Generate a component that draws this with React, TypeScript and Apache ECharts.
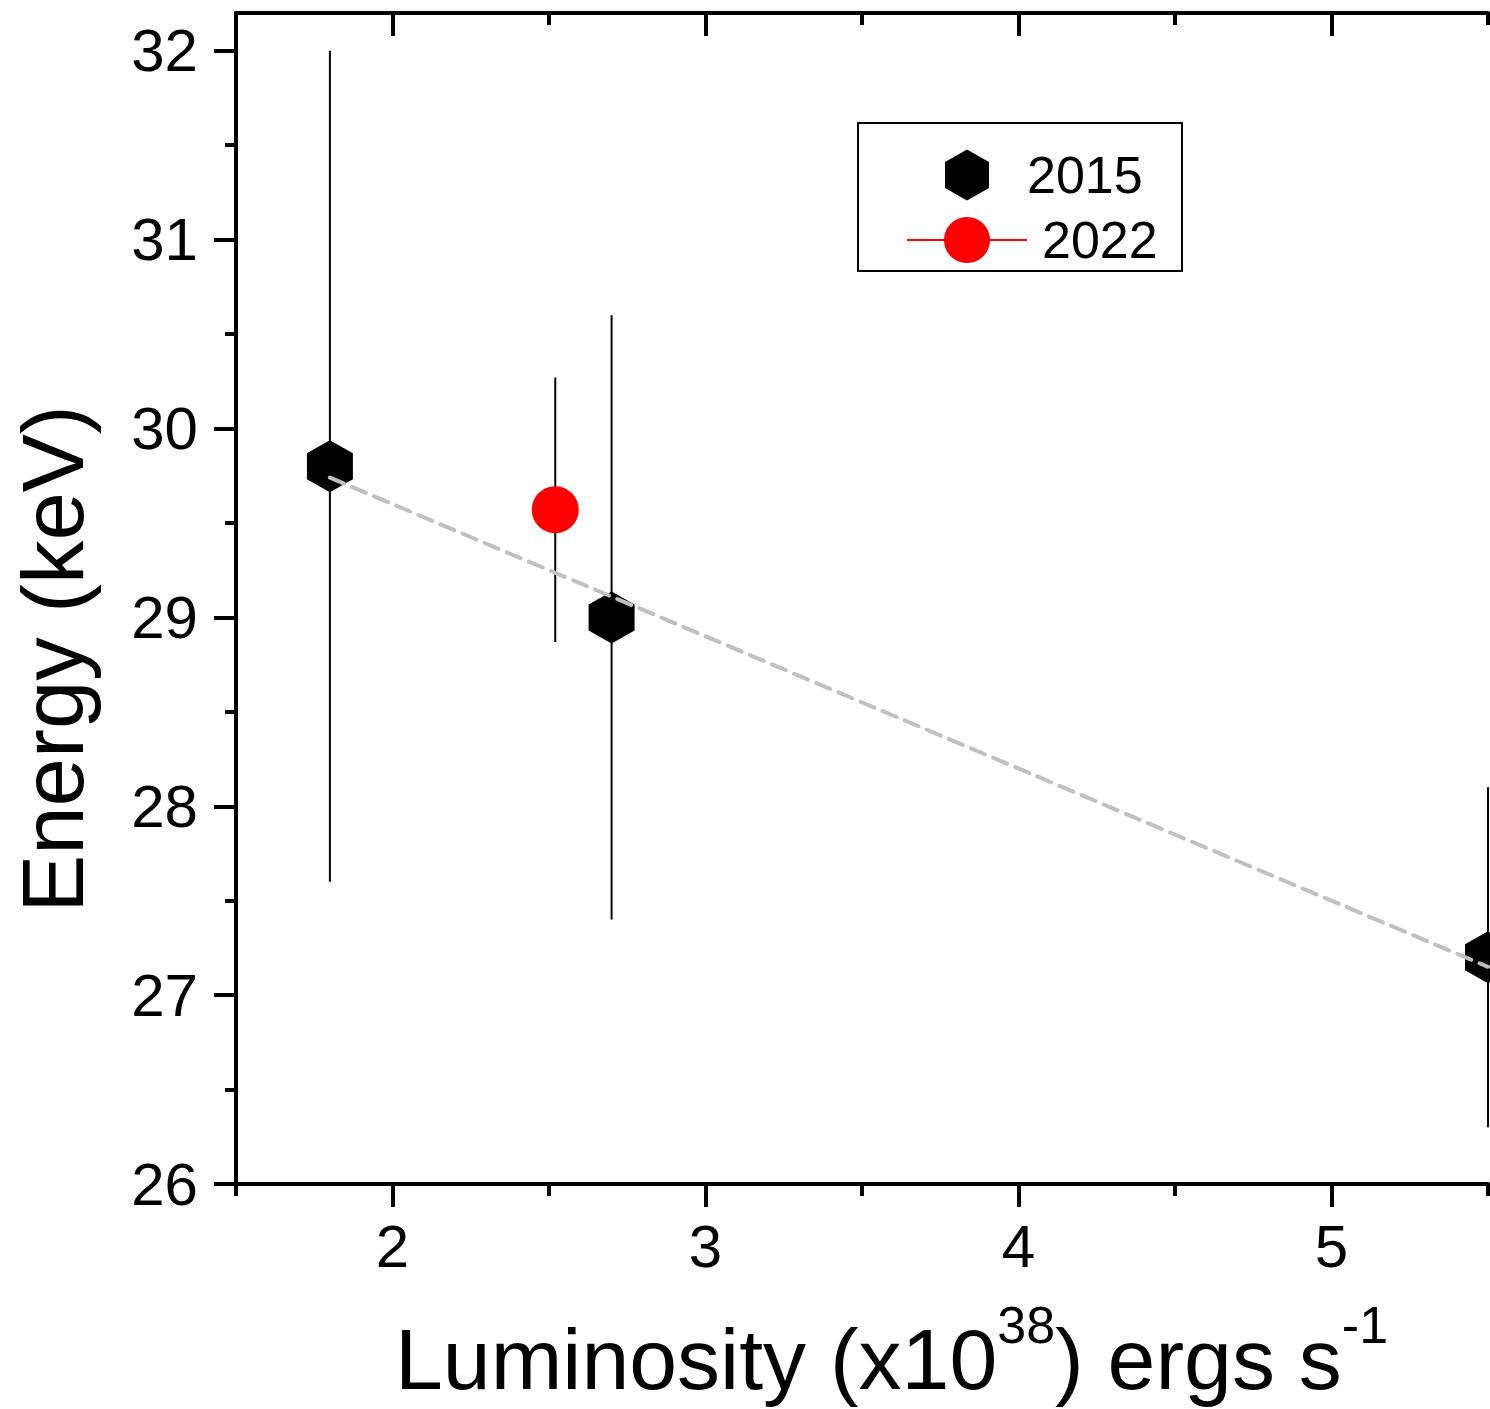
import React, { useEffect, useRef } from "react";
import * as echarts from "echarts";

// ---- Data ----
const luminosity2015 = [1.8, 2.7, 5.5];
const energy2015 = [29.8, 29.0, 27.2];
const errLow2015 = [27.6, 27.4, 26.3];
const errHigh2015 = [32.0, 30.6, 28.1];

const luminosity2022 = [2.52];
const energy2022 = [29.57];
const errLow2022 = [28.87];
const errHigh2022 = [30.27];

const fitX = [1.8, 5.5];
const fitY = [29.74, 27.15];

const xMajorTicks = [2, 3, 4, 5];
const xMinorTicks = [1.5, 2.5, 3.5, 4.5, 5.5];
const yMajorTicks = [26, 27, 28, 29, 30, 31, 32];
const yMinorTicks = [26.5, 27.5, 28.5, 29.5, 30.5, 31.5];

const seriesNames = ["2015", "2022"];

const FONT = "'Liberation Sans', Arial, Helvetica, sans-serif";
const HEX = "path://M0,-1 L0.866,-0.5 L0.866,0.5 L0,1 L-0.866,0.5 L-0.866,-0.5 Z";

export default function App() {
  const ref = useRef<HTMLDivElement>(null);

  useEffect(() => {
    if (!ref.current) return;
    const chart = echarts.init(ref.current, null, { renderer: "svg" });

    const errorBar = (xs: number[], lo: number[], hi: number[]) => ({
      type: "custom",
      xAxisIndex: 0,
      yAxisIndex: 0,
      silent: true,
      clip: false,
      z: 1,
      data: xs.map((x, i) => [x, lo[i], hi[i]]),
      renderItem: (_p: any, api: any) => {
        const a = api.coord([api.value(0), api.value(1)]);
        const b = api.coord([api.value(0), api.value(2)]);
        return {
          type: "line",
          shape: { x1: a[0], y1: a[1], x2: b[0], y2: b[1] },
          style: { stroke: "#000", lineWidth: 2 },
        };
      },
    });

    const baseX = {
      type: "value",
      min: 1.5,
      max: 5.5,
      splitLine: { show: false },
      gridIndex: 0,
    };
    const baseY = {
      type: "value",
      min: 26,
      max: 32.2,
      splitLine: { show: false },
      gridIndex: 0,
    };
    const lineStyle = { color: "#000", width: 4 };

    const option: any = {
      animation: false,
      grid: { left: 236, right: 2, top: 13, bottom: 225, containLabel: false },
      xAxis: [
        {
          ...baseX,
          position: "bottom",
          axisLine: { show: true, lineStyle },
          axisTick: { show: true, inside: false, length: 23, customValues: xMajorTicks, lineStyle },
          axisLabel: {
            show: true,
            customValues: xMajorTicks,
            fontSize: 60,
            fontFamily: FONT,
            color: "#000",
            margin: 32,
          },
        },
        {
          ...baseX,
          position: "bottom",
          axisLine: { show: false },
          axisTick: { show: true, inside: false, length: 12, customValues: xMinorTicks, lineStyle },
          axisLabel: { show: false },
        },
        {
          ...baseX,
          position: "top",
          axisLine: { show: true, lineStyle },
          axisTick: { show: true, inside: true, length: 23, customValues: xMajorTicks, lineStyle },
          axisLabel: { show: false },
        },
        {
          ...baseX,
          position: "top",
          axisLine: { show: false },
          axisTick: { show: true, inside: true, length: 12, customValues: xMinorTicks, lineStyle },
          axisLabel: { show: false },
        },
      ],
      yAxis: [
        {
          ...baseY,
          position: "left",
          axisLine: { show: true, lineStyle },
          axisTick: { show: true, inside: false, length: 22, customValues: yMajorTicks, lineStyle },
          axisLabel: {
            show: true,
            customValues: yMajorTicks,
            fontSize: 60,
            fontFamily: FONT,
            color: "#000",
            margin: 38,
          },
        },
        {
          ...baseY,
          position: "left",
          axisLine: { show: false },
          axisTick: { show: true, inside: false, length: 11, customValues: yMinorTicks, lineStyle },
          axisLabel: { show: false },
        },
      ],
      series: [
        errorBar(luminosity2015, errLow2015, errHigh2015),
        errorBar(luminosity2022, errLow2022, errHigh2022),
        {
          name: seriesNames[0],
          type: "scatter",
          xAxisIndex: 0,
          yAxisIndex: 0,
          clip: false,
          z: 2,
          symbol: HEX,
          symbolSize: [46, 52],
          itemStyle: { color: "#000", opacity: 1 },
          data: luminosity2015.map((x, i) => [x, energy2015[i]]),
        },
        {
          name: seriesNames[1],
          type: "scatter",
          xAxisIndex: 0,
          yAxisIndex: 0,
          clip: false,
          z: 3,
          symbol: "circle",
          symbolSize: 47,
          itemStyle: { color: "#ff0000", opacity: 1 },
          data: luminosity2022.map((x, i) => [x, energy2022[i]]),
        },
        {
          name: "fit",
          type: "line",
          xAxisIndex: 0,
          yAxisIndex: 0,
          z: 4,
          symbol: "none",
          silent: true,
          lineStyle: { color: "#c0c0c0", width: 4, type: [15, 9], cap: "round" },
          data: fitX.map((x, i) => [x, fitY[i]]),
        },
      ],
      graphic: [
        {
          type: "text",
          x: 52,
          y: 659,
          rotation: Math.PI / 2,
          style: {
            text: "Energy (keV)",
            fontSize: 87,
            fontFamily: FONT,
            fill: "#000",
            align: "center",
            verticalAlign: "middle",
            textAlign: "center",
            textVerticalAlign: "middle",
          },
        },
        {
          type: "text",
          x: 395,
          y: 1299,
          style: {
            text: "Luminosity (x10{sup|38}) ergs s{sup|-1}",
            fontSize: 86,
            fontFamily: FONT,
            fill: "#000",
            lineHeight: 120,
            align: "left",
            verticalAlign: "top",
            textAlign: "left",
            textVerticalAlign: "top",
            rich: {
              sup: {
                fontSize: 52,
                lineHeight: 52,
                fontFamily: FONT,
                fill: "#000",
                verticalAlign: "top",
              },
            },
          },
        },
        // legend
        {
          type: "group",
          z: 100,
          children: [
            {
              type: "rect",
              shape: { x: 858, y: 123, width: 324, height: 148 },
              style: { fill: "#fff", stroke: "#000", lineWidth: 2 },
            },
            {
              type: "polygon",
              shape: {
                points: [
                  [967, 149.5],
                  [989, 162],
                  [989, 188],
                  [967, 200.5],
                  [945, 188],
                  [945, 162],
                ],
              },
              style: { fill: "#000" },
            },
            {
              type: "text",
              x: 1027,
              y: 175,
              style: {
                text: seriesNames[0],
                fontSize: 52,
                fontFamily: FONT,
                fill: "#000",
                align: "left",
                verticalAlign: "middle",
                textAlign: "left",
                textVerticalAlign: "middle",
              },
            },
            {
              type: "line",
              shape: { x1: 907, y1: 240, x2: 1027, y2: 240 },
              style: { stroke: "#ff0000", lineWidth: 2 },
            },
            {
              type: "circle",
              shape: { cx: 967, cy: 240, r: 23 },
              style: { fill: "#ff0000" },
            },
            {
              type: "text",
              x: 1042,
              y: 240,
              style: {
                text: seriesNames[1],
                fontSize: 52,
                fontFamily: FONT,
                fill: "#000",
                align: "left",
                verticalAlign: "middle",
                textAlign: "left",
                textVerticalAlign: "middle",
              },
            },
          ],
        },
      ],
    };

    chart.setOption(option);
    return () => chart.dispose();
  }, []);

  return (
    <div
      ref={ref}
      style={{ position: "absolute", left: 0, top: 0, width: 1490, height: 1409, background: "#fff" }}
    />
  );
}
